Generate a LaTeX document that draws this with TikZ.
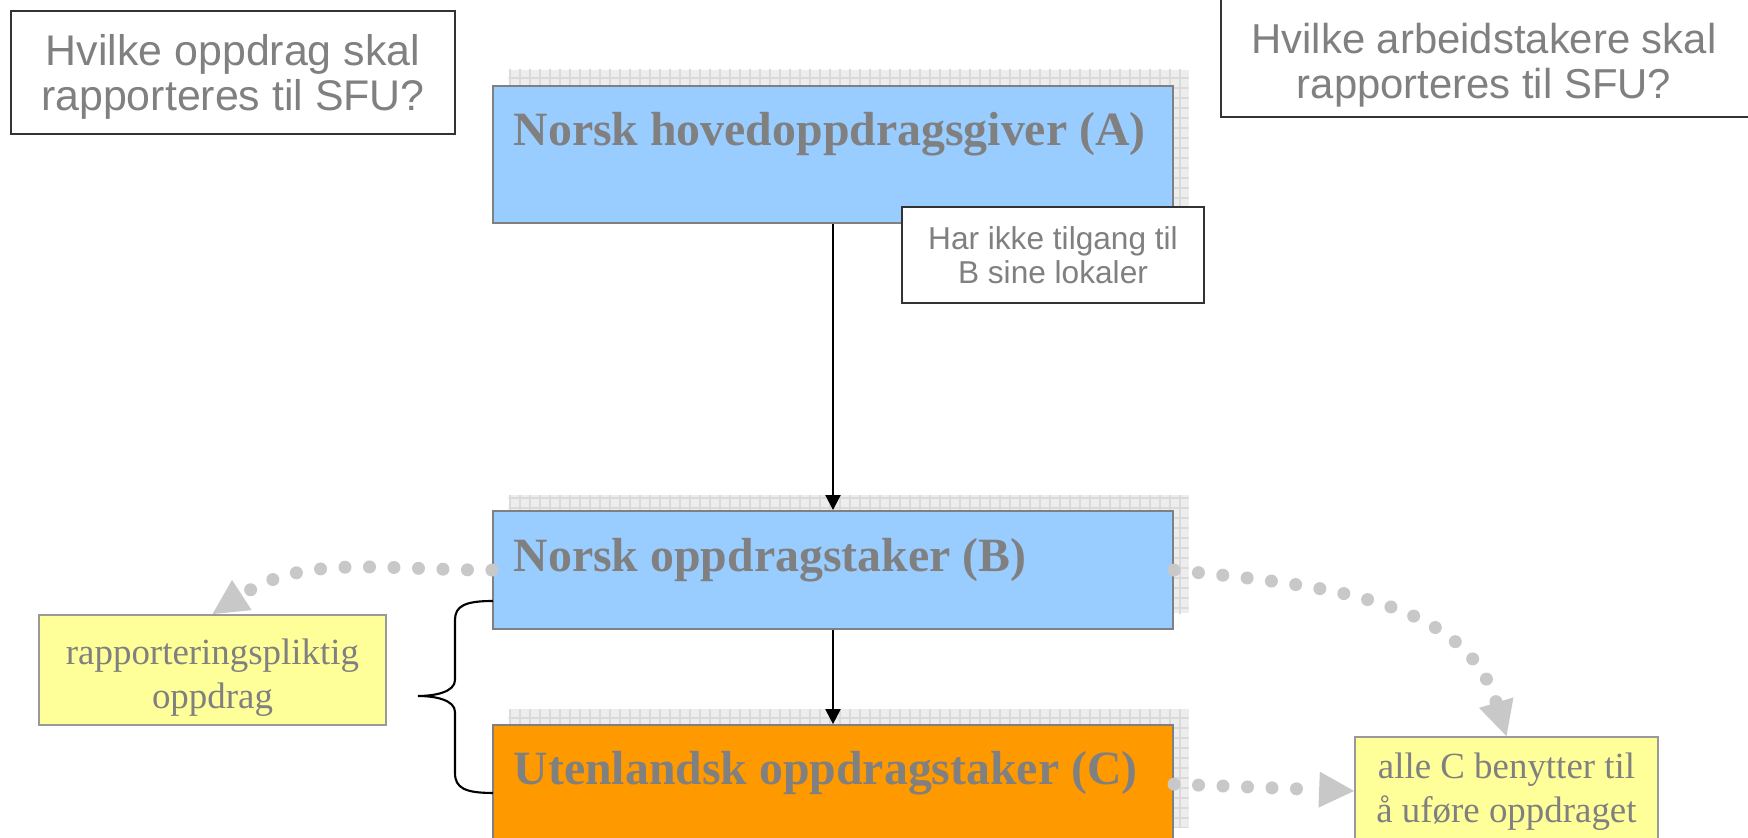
\documentclass[tikz,border=0pt]{standalone}
\usepackage{fontspec}
\setmainfont{Liberation Serif}
\setsansfont{Liberation Sans}
\usetikzlibrary{positioning,calc,arrows.meta,patterns.meta}

\definecolor{boxblue}{HTML}{99CCFF}
\definecolor{boxorange}{HTML}{FF9900}
\definecolor{noteyellow}{HTML}{FFFF99}
\definecolor{txtgray}{HTML}{808080}
\definecolor{dotgray}{HTML}{C8C8C8}
\definecolor{gridfill}{HTML}{EDEDED}
\definecolor{gridline}{HTML}{DADADA}

\begin{document}
\begin{tikzpicture}[>={Triangle[length=1.5mm,width=1.5mm]},
  party node/.style={draw=txtgray,line width=0.6pt,minimum width=6.8cm,inner sep=0pt,
    preaction={fill=gridfill,transform canvas={shift={(0.155,0.16)}}},
    preaction={pattern={Hatch[distance=1mm,line width=0.4pt]},pattern color=gridline,transform canvas={shift={(0.155,0.16)}}}},
  party text/.style={anchor=base west,inner sep=0pt,text=txtgray,font=\fontsize{13.6}{16}\selectfont\bfseries},
  question node/.style={draw=black!80,line width=0.5pt,inner sep=0pt},
  question text/.style={inner sep=0pt,align=center,text=txtgray,font=\sffamily\fontsize{12.2}{12.8}\selectfont},
  comment node/.style={draw=black!80,fill=white,line width=0.5pt,inner sep=0pt,align=center,text=txtgray,font=\sffamily\fontsize{9}{9.6}\selectfont},
  duty node/.style={draw=txtgray!80,fill=noteyellow,line width=0.5pt,inner sep=0pt},
  duty text/.style={inner sep=0pt,align=center,text=txtgray,font=\fontsize{10.5}{12.6}\selectfont},
  dot arrow/.style={dotgray,line width=1.3mm,line cap=round,dash pattern=on 0pt off 2.45mm,-{Triangle[length=3.5mm,width=3.6mm,line width=0pt]}}]
  \useasboundingbox (0,0) rectangle (17.48,8.38);

  \node[party node,fill=boxblue,minimum height=1.37cm] (A) at (8.33,6.835) {};
  \node[party node,fill=boxblue,minimum height=1.18cm,below=2.86cm of A] (B) {};
  \node[party node,fill=boxorange,minimum height=1.18cm,below=0.94cm of B] (C) {};
  \node[party text] (Atxt) at ($(A.north west)+(0.21,-0.605)$) {Norsk hovedoppdragsgiver (A)};
  \node[party text] (Btxt) at ($(B.north west)+(0.21,-0.61)$) {Norsk oppdragstaker (B)};
  \node[party text] (Ctxt) at ($(C.north west)+(0.21,-0.6)$) {Utenlandsk oppdragstaker (C)};

  \node[question node,minimum width=4.44cm,minimum height=1.23cm] (Q1) at (2.33,7.655) {};
  \node[question text] (Q1txt) at ($(Q1)+(0,-0.04)$) {Hvilke oppdrag skal\\rapporteres til SFU?};
  \node[question node,minimum width=5.34cm,minimum height=1.24cm] (Q2) at (14.88,7.83) {};
  \node[question text,font=\sffamily\fontsize{11.9}{12.8}\selectfont] (Q2txt) at ($(Q2)+(-0.04,-0.1)$) {Hvilke arbeidstakere skal\\rapporteres til SFU?};
  \node[comment node,minimum width=3.02cm,minimum height=0.96cm] (N1) at (10.53,5.83) {Har ikke tilgang til\\B sine lokaler};

  \node[duty node,minimum width=3.47cm,minimum height=1.10cm] (Y1) at (2.125,1.68) {};
  \node[duty text] (Y1txt) at ($(Y1)+(0,-0.08)$) {rapporteringspliktig\\oppdrag};
  \node[duty node,minimum width=3.03cm,minimum height=1.08cm] (Y2) at (15.065,0.47) {};
  \node[duty text] (Y2txt) at ($(Y2)+(0,-0.01)$) {alle C benytter til\\å uføre oppdraget};

  \path[->,line width=0.6pt]
    (A) edge (B)
    (B) edge (C);

  \draw[dot arrow] (B.west) to[out=180,in=33] (Y1.north);
  \draw[dot arrow] (B.east) to[out=-6,in=107] (Y2.north);
  \draw[dot arrow] (C.east) -- (Y2.west);

  \draw[line width=0.6pt] (4.93,2.37) .. controls (4.65,2.37) and (4.55,2.32) .. (4.55,2.18) -- (4.55,1.58)
    .. controls (4.55,1.46) and (4.35,1.42) .. (4.18,1.42) .. controls (4.35,1.42) and (4.55,1.38) .. (4.55,1.26)
    -- (4.55,0.65) .. controls (4.55,0.50) and (4.65,0.45) .. (4.93,0.45);
\end{tikzpicture}
\end{document}
